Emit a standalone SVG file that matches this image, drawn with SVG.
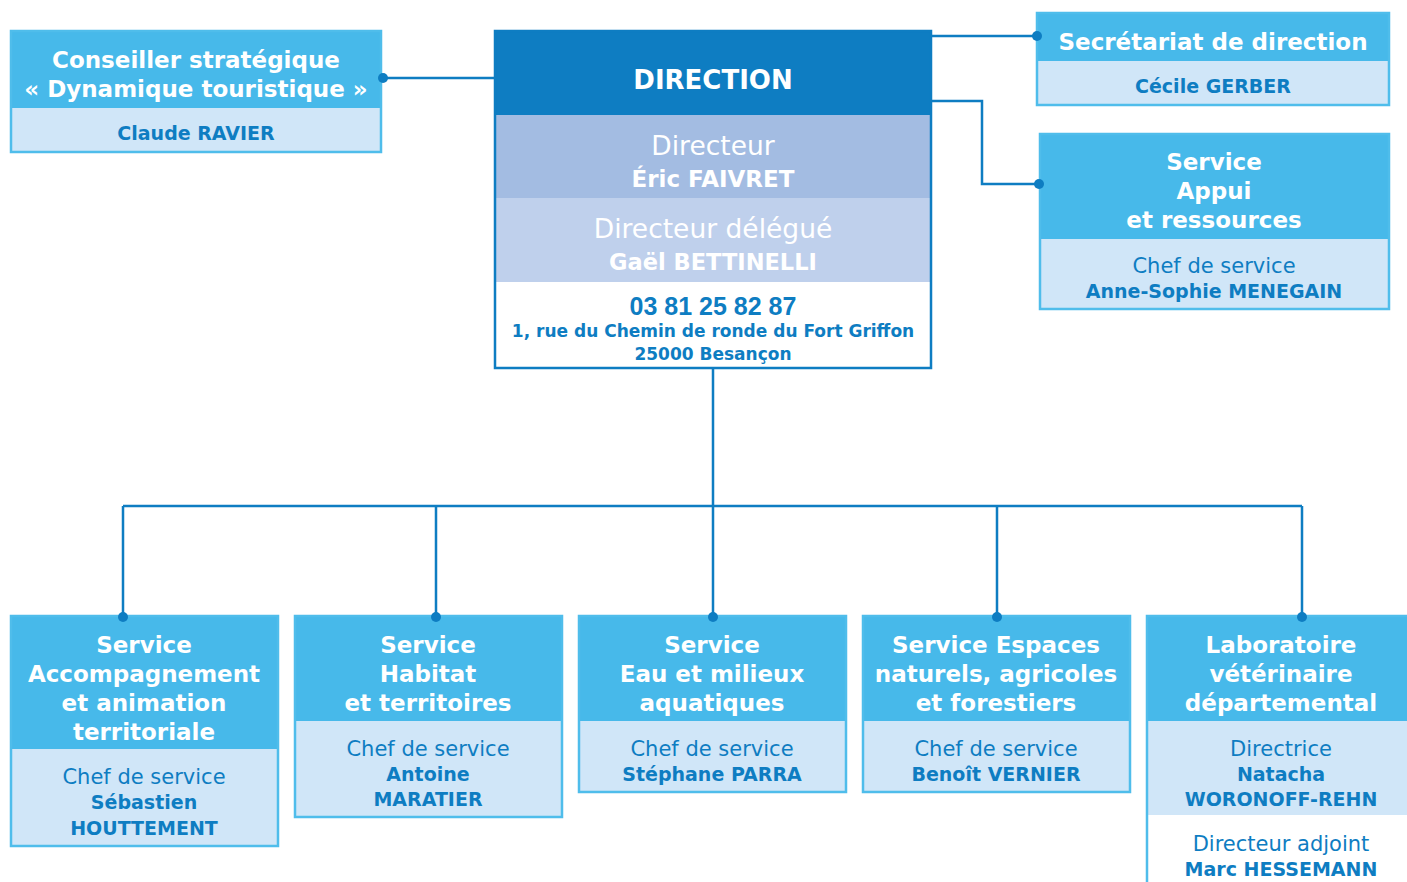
<svg xmlns="http://www.w3.org/2000/svg" width="1407" height="882" viewBox="0 0 1407 882">
<style>
.hd{fill:#47B9EA}
.lt{fill:#D0E6F8}
.bx{fill:none;stroke:#4FBDEB;stroke-width:2.5}
.t{font-family:"DejaVu Sans","Liberation Sans",sans-serif;text-anchor:middle}
.w{fill:#fff;font-weight:bold;font-size:23px}
.n{fill:#0E7DC2;font-weight:bold;font-size:19px}
.r{fill:#0E7DC2;font-size:21px}
.c{fill:none;stroke:#0E7DC2;stroke-width:2.5}
.d{fill:#0E7DC2}
</style>
<g id="conseiller">
<rect class="hd" x="11" y="31" width="370" height="77"/>
<rect class="lt" x="11" y="108" width="370" height="44"/>
<rect class="bx" x="11" y="31" width="370" height="121"/>
<text class="t w" x="196" y="68" font-size="22.6">Conseiller stratégique</text>
<text class="t w" x="196" y="97" font-size="22.6">« Dynamique touristique »</text>
<text class="t n" x="196" y="140">Claude RAVIER</text>
</g>
<g id="direction">
<rect x="495" y="31" width="436" height="84" fill="#0E7DC2"/>
<rect x="495" y="115" width="436" height="83" fill="#A3BCE2"/>
<rect x="495" y="198" width="436" height="84" fill="#BFD0EC"/>
<rect x="495" y="282" width="436" height="86" fill="#fff"/>
<rect x="495" y="31" width="436" height="337" fill="none" stroke="#0E7DC2" stroke-width="2.5"/>
<text class="t" x="713" y="89" fill="#fff" font-weight="bold" font-size="26">DIRECTION</text>
<text class="t" x="713" y="155" fill="#fff" font-size="26.5">Directeur</text>
<text class="t" x="713" y="187" fill="#fff" font-size="23" font-weight="bold">Éric FAIVRET</text>
<text class="t" x="713" y="238" fill="#fff" font-size="26.5">Directeur délégué</text>
<text class="t" x="713" y="270" fill="#fff" font-size="22.5" font-weight="bold">Gaël BETTINELLI</text>
<text x="713" y="315" fill="#0E7DC2" font-size="25" font-weight="bold" font-family="Liberation Sans, sans-serif" text-anchor="middle">03 81 25 82 87</text>
<text class="t" x="713" y="337" fill="#0E7DC2" font-size="17" font-weight="bold">1, rue du Chemin de ronde du Fort Griffon</text>
<text class="t" x="713" y="360" fill="#0E7DC2" font-size="17" font-weight="bold">25000 Besançon</text>
</g>
<g id="secretariat">
<rect class="hd" x="1037" y="13" width="352" height="48"/>
<rect class="lt" x="1037" y="61" width="352" height="44"/>
<rect class="bx" x="1037" y="13" width="352" height="92"/>
<text class="t w" x="1213" y="50" font-size="22.4">Secrétariat de direction</text>
<text class="t n" x="1213" y="93">Cécile GERBER</text>
</g>
<g id="appui">
<rect class="hd" x="1040" y="134" width="349" height="105"/>
<rect class="lt" x="1040" y="239" width="349" height="70"/>
<rect class="bx" x="1040" y="134" width="349" height="175"/>
<text class="t w" x="1214" y="170">Service</text>
<text class="t w" x="1214" y="199">Appui</text>
<text class="t w" x="1214" y="228">et ressources</text>
<text class="t r" x="1214" y="273">Chef de service</text>
<text class="t n" x="1214" y="298">Anne-Sophie MENEGAIN</text>
</g>
<g id="accompagnement">
<rect class="hd" x="11" y="616" width="267" height="133"/>
<rect class="lt" x="11" y="749" width="267" height="97"/>
<rect class="bx" x="11" y="616" width="267" height="230"/>
<text class="t w" x="144" y="653">Service</text>
<text class="t w" x="144" y="682">Accompagnement</text>
<text class="t w" x="144" y="711">et animation</text>
<text class="t w" x="144" y="740">territoriale</text>
<text class="t r" x="144" y="784">Chef de service</text>
<text class="t n" x="144" y="809">Sébastien</text>
<text class="t n" x="144" y="835">HOUTTEMENT</text>
</g>
<g id="habitat">
<rect class="hd" x="295" y="616" width="267" height="105"/>
<rect class="lt" x="295" y="721" width="267" height="96"/>
<rect class="bx" x="295" y="616" width="267" height="201"/>
<text class="t w" x="428" y="653">Service</text>
<text class="t w" x="428" y="682">Habitat</text>
<text class="t w" x="428" y="711">et territoires</text>
<text class="t r" x="428" y="756">Chef de service</text>
<text class="t n" x="428" y="781">Antoine</text>
<text class="t n" x="428" y="806">MARATIER</text>
</g>
<g id="eau">
<rect class="hd" x="579" y="616" width="267" height="105"/>
<rect class="lt" x="579" y="721" width="267" height="71"/>
<rect class="bx" x="579" y="616" width="267" height="176"/>
<text class="t w" x="712" y="653">Service</text>
<text class="t w" x="712" y="682">Eau et milieux</text>
<text class="t w" x="712" y="711">aquatiques</text>
<text class="t r" x="712" y="756">Chef de service</text>
<text class="t n" x="712" y="781">Stéphane PARRA</text>
</g>
<g id="espaces">
<rect class="hd" x="863" y="616" width="267" height="105"/>
<rect class="lt" x="863" y="721" width="267" height="71"/>
<rect class="bx" x="863" y="616" width="267" height="176"/>
<text class="t w" x="996" y="653">Service Espaces</text>
<text class="t w" x="996" y="682">naturels, agricoles</text>
<text class="t w" x="996" y="711">et forestiers</text>
<text class="t r" x="996" y="756">Chef de service</text>
<text class="t n" x="996" y="781">Benoît VERNIER</text>
</g>
<g id="laboratoire">
<rect class="hd" x="1147" y="616" width="270" height="105"/>
<rect class="lt" x="1147" y="721" width="270" height="94"/>
<rect x="1147" y="815" width="270" height="80" fill="#fff"/>
<rect class="bx" x="1147" y="616" width="270" height="280"/>
<text class="t w" x="1281" y="653">Laboratoire</text>
<text class="t w" x="1281" y="682">vétérinaire</text>
<text class="t w" x="1281" y="711">départemental</text>
<text class="t r" x="1281" y="756">Directrice</text>
<text class="t n" x="1281" y="781">Natacha</text>
<text class="t n" x="1281" y="806">WORONOFF-REHN</text>
<text class="t r" x="1281" y="851">Directeur adjoint</text>
<text class="t n" x="1281" y="876">Marc HESSEMANN</text>
</g>
<g id="connectors">
<path class="c" d="M383 78H494"/>
<path class="c" d="M932 36H1037"/>
<path class="c" d="M932 101H982V184H1039"/>
<path class="c" d="M713 369V506M123 506H1302M123 506V617M436 506V617M713 506V617M997 506V617M1302 506V617"/>
<circle class="d" cx="383" cy="78" r="5"/>
<circle class="d" cx="1037" cy="36" r="5"/>
<circle class="d" cx="1039" cy="184" r="5"/>
<circle class="d" cx="123" cy="617" r="5"/>
<circle class="d" cx="436" cy="617" r="5"/>
<circle class="d" cx="713" cy="617" r="5"/>
<circle class="d" cx="997" cy="617" r="5"/>
<circle class="d" cx="1302" cy="617" r="5"/>
</g>
</svg>
